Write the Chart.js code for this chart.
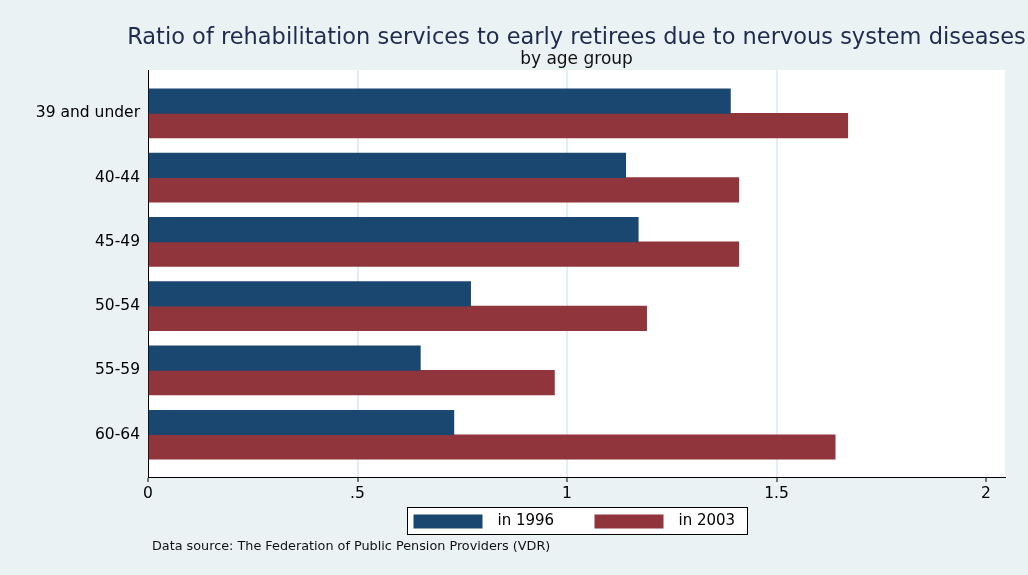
<!DOCTYPE html>
<html>
<head>
<meta charset="utf-8">
<script src="https://cdn.jsdelivr.net/npm/chart.js@4/dist/chart.umd.min.js"></script>
<style>
  html, body { margin: 0; padding: 0; background: #eaf2f3; }
  #chart-wrap { width: 1028px; height: 575px; }
</style>
</head>
<body>
<div id="chart-wrap"><canvas id="chart"></canvas></div>
<script>
const AGE_GROUPS = ['39 and under', '40-44', '45-49', '50-54', '55-59', '60-64'];
const RATIO_1996 = [1.39, 1.14, 1.17, 0.77, 0.65, 0.73];
const RATIO_2003 = [1.67, 1.41, 1.41, 1.19, 0.97, 1.64];
const SERIES_LABELS = ['in 1996', 'in 2003'];
const X_TICKS = [0, 0.5, 1, 1.5, 2];

const TITLE = 'Ratio of rehabilitation services to early retirees due to nervous system diseases';
const SUBTITLE = 'by age group';
const NOTE = 'Data source: The Federation of Public Pension Providers (VDR)';

const FONT = 'DejaVu Sans';
const BG = '#eaf2f3';
const COLORS = ['#1a476f', '#90353b'];

// bg, white plot region, titles, boxed legend and note, drawn the stata way
const stataFrame = {
  id: 'stataFrame',
  beforeDraw(chart) {
    const {ctx, chartArea: a} = chart;
    ctx.save();
    ctx.fillStyle = BG;
    ctx.fillRect(0, 0, chart.width, chart.height);
    ctx.fillStyle = '#fff';
    ctx.fillRect(a.left, a.top, a.right - a.left, a.bottom - a.top);
    ctx.restore();
  },
  afterDraw(chart) {
    const {ctx, chartArea: a} = chart;
    const mid = (a.left + a.right) / 2;
    ctx.save();
    ctx.textAlign = 'center';
    ctx.textBaseline = 'middle';
    ctx.fillStyle = '#1e2b4f';
    ctx.font = `22.5px "${FONT}"`;
    ctx.fillText(TITLE, mid, a.top - 32);
    ctx.fillStyle = '#111';
    ctx.font = `17px "${FONT}"`;
    ctx.fillText(SUBTITLE, mid, a.top - 10);

    // legend box
    const boxW = 340, boxH = 27;
    const bx = Math.round(mid - boxW / 2) + 0.5, by = a.bottom + 30.5;
    ctx.fillStyle = '#fff';
    ctx.fillRect(bx, by, boxW, boxH);
    ctx.strokeStyle = '#000';
    ctx.lineWidth = 1;
    ctx.strokeRect(bx, by, boxW, boxH);
    ctx.textAlign = 'left';
    ctx.font = `15px "${FONT}"`;
    chart.data.datasets.forEach((ds, i) => {
      const x0 = bx + 6 + i * 181;
      ctx.fillStyle = ds.backgroundColor;
      ctx.fillRect(x0, by + 7, 69, 14);
      ctx.fillStyle = '#000';
      ctx.fillText(ds.label, x0 + 84, by + boxH / 2);
    });

    ctx.font = `12.8px "${FONT}"`;
    ctx.fillStyle = '#111';
    ctx.fillText(NOTE, a.left + 4, a.bottom + 70);
    ctx.restore();
  }
};

const CHART = new Chart(document.getElementById('chart'), {
  type: 'bar',
  data: {
    datasets: [RATIO_1996, RATIO_2003].map((vals, k) => ({
      label: SERIES_LABELS[k],
      data: vals.map((v, i) => ({x: v, y: i})),
      backgroundColor: COLORS[k],
      barThickness: 24.5,
    })),
  },
  options: {
    indexAxis: 'y',
    maintainAspectRatio: false,
    responsive: true,
    animation: false,
    layout: {
      padding: {top: 70, right: 23, bottom: 68, left: 0},
    },
    scales: {
      x: {
        type: 'linear',
        min: 0,
        max: 2.0453,
        afterBuildTicks: s => { s.ticks = X_TICKS.map(v => ({value: v})); },
        afterFit: s => { s.height = 30; },
        border: {display: true, color: '#000', width: 1},
        grid: {
          color: c => (c.tick && (c.tick.value === 0 || c.tick.value === 2)) ? 'rgba(0,0,0,0)' : '#e4edf1',
          lineWidth: 2,
          tickLength: 5,
          tickColor: '#000',
          tickWidth: 1,
        },
        ticks: {
          padding: 3,
          color: '#000',
          font: {family: FONT, size: 15.5},
          callback: v => String(v).replace(/^0\./, '.'),
        },
      },
      y: {
        type: 'linear',
        reverse: true,
        offset: false,
        min: -0.674,
        max: 5.658,
        afterBuildTicks: s => { s.ticks = AGE_GROUPS.map((_, i) => ({value: i})); },
        afterFit: s => { s.width = 148; },
        border: {display: true, color: '#000', width: 1},
        grid: {display: false, drawTicks: false, tickLength: 0, offset: false},
        ticks: {
          padding: 8,
          color: '#000',
          font: {family: FONT, size: 15.5},
          callback: v => AGE_GROUPS[v],
        },
      },
    },
    plugins: {
      legend: {display: false},
      tooltip: {enabled: false},
    },
  },
  plugins: [stataFrame],
});
</script>
</body>
</html>
